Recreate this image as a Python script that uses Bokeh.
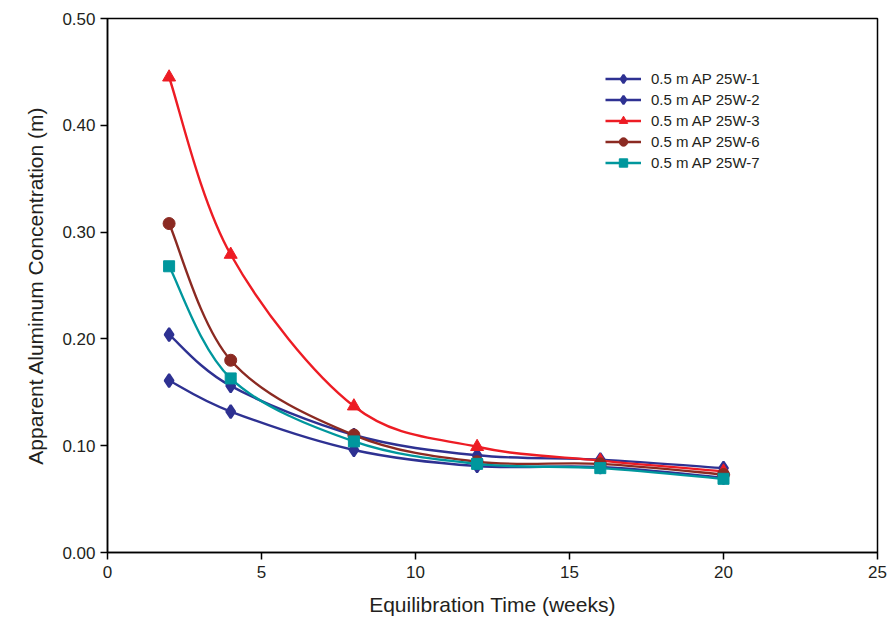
from bokeh.plotting import figure
from bokeh.models import Legend, LegendItem, PrintfTickFormatter, FixedTicker, Range1d, ColumnDataSource
from bokeh.embed import file_html
from bokeh.resources import INLINE

weeks = [2, 4, 8, 12, 16, 20]
w1 = [0.161, 0.132, 0.096, 0.081, 0.080, 0.070]
w2 = [0.204, 0.156, 0.110, 0.091, 0.087, 0.079]
w3 = [0.445, 0.279, 0.137, 0.099, 0.086, 0.076]
w6 = [0.308, 0.180, 0.110, 0.085, 0.083, 0.073]
w7 = [0.268, 0.163, 0.104, 0.083, 0.079, 0.069]

labels = ["0.5 m AP 25W-1", "0.5 m AP 25W-2", "0.5 m AP 25W-3", "0.5 m AP 25W-6", "0.5 m AP 25W-7"]
series = [w1, w2, w3, w6, w7]
colors = ["#2E3192", "#2E3192", "#ED1C24", "#8B2A22", "#00979D"]
markers = ["diamond", "diamond", "triangle", "circle", "square"]
msizes = [13, 13, 13, 12, 11]
mlw = [2.2, 2.2, 1, 1, 1]

FONT = "Liberation Sans"

p = figure(width=896, height=619, output_backend="svg", toolbar_location=None,
           x_range=Range1d(0, 25), y_range=Range1d(0, 0.5),
           min_border_left=107, min_border_right=19, min_border_top=18, min_border_bottom=67)
p.xgrid.visible = False
p.ygrid.visible = False
p.outline_line_color = "black"
p.outline_line_width = 1.5
p.background_fill_color = "white"
p.border_fill_color = "white"

for ax in (p.xaxis[0], p.yaxis[0]):
    ax.axis_line_color = "black"
    ax.axis_line_width = 1.5
    ax.major_tick_line_color = "black"
    ax.major_tick_line_width = 1.5
    ax.major_tick_out = 7
    ax.major_tick_in = 0
    ax.minor_tick_line_color = None
    ax.major_label_text_font = FONT
    ax.major_label_text_font_size = "17px"
    ax.major_label_text_color = "#231F20"
    ax.axis_label_text_font = FONT
    ax.axis_label_text_font_style = "normal"
    ax.axis_label_text_color = "#231F20"

p.xaxis.ticker = FixedTicker(ticks=[0, 5, 10, 15, 20, 25])
p.yaxis.ticker = FixedTicker(ticks=[0, 0.1, 0.2, 0.3, 0.4, 0.5])
p.yaxis.formatter = PrintfTickFormatter(format="%.2f")
p.xaxis.axis_label = "Equilibration Time (weeks)"
p.yaxis.axis_label = "Apparent Aluminum Concentration (m)"
p.xaxis.axis_label_text_font_size = "21px"
p.yaxis.axis_label_text_font_size = "21px"
p.xaxis.major_label_standoff = 6
p.xaxis.axis_label_standoff = 12
p.yaxis.major_label_standoff = 5
p.yaxis.axis_label_standoff = 12


def smooth_controls(xs, ys):
    # Excel-style smoothed line: cubic Bezier per segment (Catmull-Rom controls)
    n = len(xs)
    x0, y0, x1, y1, cx0, cy0, cx1, cy1 = [], [], [], [], [], [], [], []
    for i in range(n - 1):
        im1 = max(i - 1, 0)
        ip2 = min(i + 2, n - 1)
        x0.append(xs[i]); y0.append(ys[i])
        x1.append(xs[i + 1]); y1.append(ys[i + 1])
        cx0.append(xs[i] + (xs[i + 1] - xs[im1]) / 6.0)
        cy0.append(ys[i] + (ys[i + 1] - ys[im1]) / 6.0)
        cx1.append(xs[i + 1] - (xs[ip2] - xs[i]) / 6.0)
        cy1.append(ys[i + 1] - (ys[ip2] - ys[i]) / 6.0)
    return dict(x0=x0, y0=y0, x1=x1, y1=y1, cx0=cx0, cy0=cy0, cx1=cx1, cy1=cy1)


items = []
for lab, ys, c, m, s, lw in zip(labels, series, colors, markers, msizes, mlw):
    src = ColumnDataSource(smooth_controls(weeks, ys))
    r_line = p.bezier(x0="x0", y0="y0", x1="x1", y1="y1", cx0="cx0", cy0="cy0",
                      cx1="cx1", cy1="cy1", source=src, line_color=c, line_width=2.4)
    r_pts = p.scatter(weeks, ys, marker=m, size=s, fill_color=c, line_color=c, line_width=lw)
    items.append(LegendItem(label=lab, renderers=[r_line, r_pts]))

legend = Legend(items=items, location=(498, 379), padding=0, spacing=0, margin=0,
                label_height=21, glyph_height=21, glyph_width=36, label_standoff=10,
                label_text_font=FONT, label_text_font_size="15px", label_text_color="#231F20",
                border_line_color=None, background_fill_alpha=0)
p.add_layout(legend)

open("out.html", "w").write(file_html(p, INLINE))
